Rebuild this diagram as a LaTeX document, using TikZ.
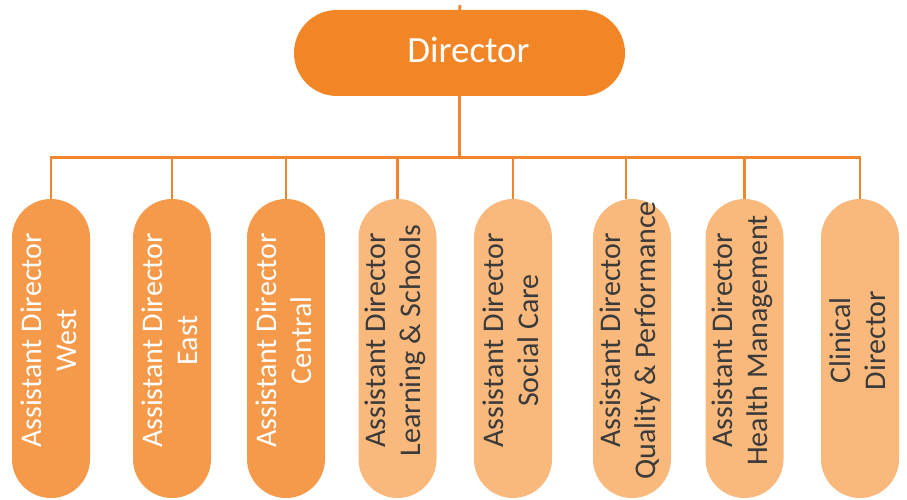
\documentclass[tikz,border=0pt]{standalone}
\usepackage{fontspec}
\setmainfont{Carlito}
\definecolor{topfill}{HTML}{F28626}
\definecolor{regionfill}{HTML}{F5994A}
\definecolor{servicefill}{HTML}{F9B87C}
\definecolor{linkline}{HTML}{F0852D}
\definecolor{darktext}{HTML}{3A3A3A}
\begin{document}
\begin{tikzpicture}[x=1pt,y=-1pt,
  topbox/.style={fill=topfill, draw=none, minimum width=331pt, minimum height=86pt,
    rounded corners=43pt, inner sep=0pt},
  toplabel/.style={text=white, font=\fontsize{37}{40}\selectfont, inner sep=0pt},
  unitbox/.style={draw=none, minimum width=78pt, minimum height=299pt,
    rounded corners=39pt, inner sep=0pt},
  region/.style={unitbox, fill=regionfill},
  service/.style={unitbox, fill=servicefill},
  unitlabel/.style={rotate=90, align=center, inner sep=0pt,
    font=\fontsize{30}{35}\selectfont},
  regionlabel/.style={unitlabel, text=white},
  servicelabel/.style={unitlabel, text=darktext},
  link/.style={draw=linkline, line width=2.7pt}
]
\useasboundingbox (0,0) rectangle (907,500);

% top post
\node[topbox] (dir) at (459.5,53) {};
\node[toplabel] (dirlbl) at (468.5,50) {Director};

% reporting units
\node[region]  (b1) at (51,348.5)  {};
\node[region]  (b2) at (172,348.5) {};
\node[region]  (b3) at (286,348.5) {};
\node[service] (b4) at (397.5,348.5) {};
\node[service] (b5) at (513,348.5) {};
\node[service] (b6) at (632,348.5) {};
\node[service] (b7) at (744.5,348.5) {};
\node[service] (b8) at (860,348.5) {};

\tikzset{labelpos/.style={xshift=-2pt, yshift=8pt}}
\node[regionlabel]  (t1) at ([labelpos]b1.center) {Assistant Director\\West};
\node[regionlabel]  (t2) at ([labelpos]b2.center) {Assistant Director\\East};
\node[regionlabel]  (t3) at ([labelpos]b3.center) {Assistant Director\\Central};
\node[servicelabel] (t4) at ([labelpos]b4.center) {Assistant Director\\Learning \& Schools};
\node[servicelabel] (t5) at ([labelpos]b5.center) {Assistant Director\\Social Care};
\node[servicelabel] (t6) at ([labelpos]b6.center) {Assistant Director\\Quality \& Performance};
\node[servicelabel] (t7) at ([labelpos]b7.center) {Assistant Director\\Health Management};
\node[servicelabel] (t8) at ([labelpos]b8.center) {Clinical\\Director};

% connectors
\coordinate (bus) at (0,157.5);
\coordinate (stub) at (460,5);
\draw[link] (dir.north) -- (stub);
\foreach \b in {b1,b2,b3,b4,b5,b7,b8}
  \draw[link] (dir.south) -- (dir.south |- bus) -| (\b.north);
\draw[link] (dir.south) -- (dir.south |- bus) -| ([xshift=-6pt]b6.north);
\end{tikzpicture}
\end{document}
